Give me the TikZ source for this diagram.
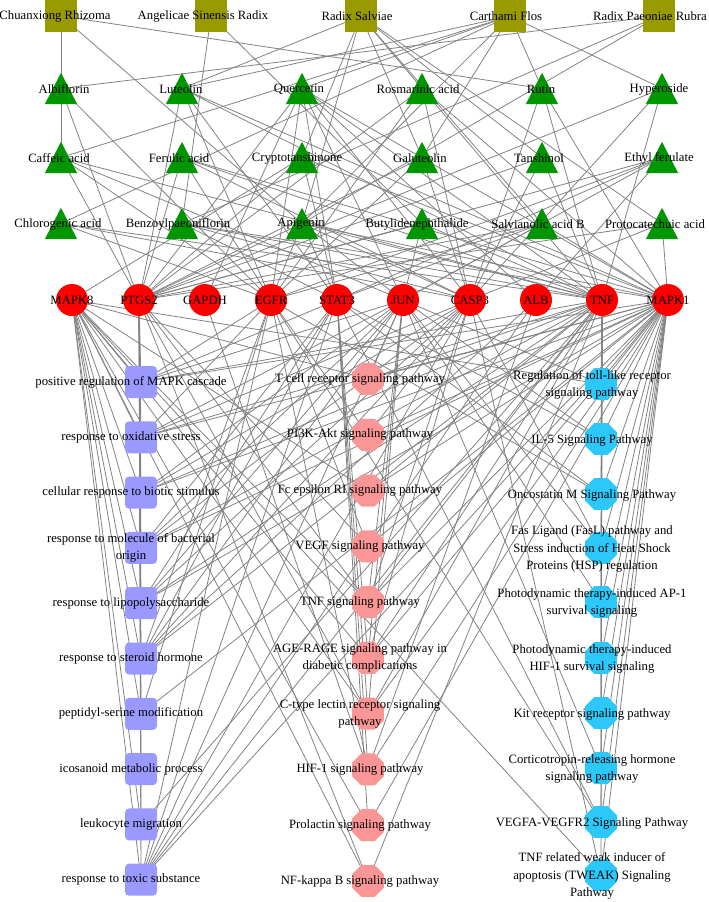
\documentclass[tikz,border=0pt]{standalone}
\usepackage{fontspec}
\setmainfont{Liberation Serif}
\usetikzlibrary{shapes.geometric}
\pgfdeclarelayer{bg}
\pgfsetlayers{bg,main}
\definecolor{herbc}{RGB}{153,153,0}
\definecolor{compc}{RGB}{0,150,0}
\definecolor{targc}{RGB}{255,0,0}
\definecolor{goc}{RGB}{153,153,255}
\definecolor{keggc}{RGB}{250,150,150}
\definecolor{reacc}{RGB}{45,200,250}
\definecolor{edgec}{RGB}{130,130,130}
\begin{document}
\begin{tikzpicture}[x=1pt,y=-1pt,
  herb/.style={rectangle,fill=herbc,minimum size=32pt,inner sep=0},
  comp/.style={rectangle,minimum width=32pt,minimum height=31pt,inner sep=0},
  targ/.style={circle,fill=targc,minimum size=32pt,inner sep=0},
  gonode/.style={rectangle,rounded corners=4pt,fill=goc,minimum size=32pt,inner sep=0},
  kegg/.style={regular polygon,regular polygon sides=8,fill=keggc,minimum size=34.6pt,inner sep=0},
  reac/.style={regular polygon,regular polygon sides=8,fill=reacc,minimum size=34.6pt,inner sep=0},
  lbl/.style={font=\fontsize{12.7}{17.3}\selectfont,align=center,inner sep=0},
  edge/.style={draw=edgec,line width=0.8pt}]
\useasboundingbox (0,0) rectangle (709,902);
% herbs
\foreach \n/\x/\lx/\t in {h1/61/55/Chuanxiong Rhizoma,h2/211/203/Angelicae Sinensis Radix,h3/361/357/Radix Salviae,h4/510/506/Carthami Flos,h5/659/650/Radix Paeoniae Rubra}{
  \node[herb] (\n) at (\x,16) {};
  \node[lbl] (\n l) at (\lx,16) {\t};
}
% compounds
\foreach \n/\x/\lx/\y/\t in {c1/61/64/89/Albiflorin,c2/182/181/89/Luteolin,c3/302/299/89/Quercetin,c4/422/418/89/Rosmarinic acid,c5/542/541/89/Rutin,c6/662/659/89/Hyperoside,
  c7/61/59/158/Caffeic acid,c8/182/179/158/Ferulic acid,c9/302/297/158/Cryptotanshinone,c10/422/420/158/Galuteolin,c11/542/539/158/Tanshinol,c12/662/659/158/Ethyl ferulate,
  c13/61/58/224/Chlorogenic acid,c14/182/178/224/Benzoylpaeoniflorin,c15/302/301/224/Apigenin,c16/422/417/224/Butylidenephthalide,c17/542/538/224/Salvianolic acid B,c18/662/655/224/Protocatechuic acid}{
  \node[comp] (\n) at (\x,\y-0.5) {};
  \fill[compc] (\n.north) -- (\n.south east) -- (\n.south west) -- cycle;
  \node[lbl] (\n l) at (\lx,\y) {\t};
}
% targets
\foreach \n/\x/\t in {t1/72/MAPK8,t2/139/PTGS2,t3/205/GAPDH,t4/271/EGFR,t5/337/STAT3,t6/403/JUN,t7/470/CASP3,t8/536/ALB,t9/602/TNF,t10/668/MAPK1}{
  \node[targ] (\n) at (\x,300) {};
  \node[lbl] (\n l) at (\x,300) {\t};
}
% GO terms
\foreach \n/\y/\t in {g1/382/positive regulation of MAPK cascade,g2/437.3/response to oxidative stress,g3/492.6/cellular response to biotic stimulus,
  g4/547.9/{response to molecule of bacterial\\origin},g5/603.2/response to lipopolysaccharide,g6/658.5/response to steroid hormone,
  g7/713.8/peptidyl-serine modification,g8/769.1/icosanoid metabolic process,g9/824.4/leukocyte migration,g10/879.7/response to toxic substance}{
  \node[gonode] (\n) at (141,\y) {};
  \node[lbl] (\n l) at (131,\y) {\t};
}
% KEGG
\foreach \n/\y/\t in {k1/379/T cell receptor signaling pathway,k2/434.8/PI3K-Akt signaling pathway,k3/490.6/Fc epsilon RI signaling pathway,
  k4/546.3/VEGF signaling pathway,k5/602.1/TNF signaling pathway,k6/657.9/{AGE-RAGE signaling pathway in\\diabetic complications},
  k7/713.7/{C-type lectin receptor signaling\\pathway},k8/769.4/HIF-1 signaling pathway,k9/825.2/Prolactin signaling pathway,k10/881/NF-kappa B signaling pathway}{
  \node[kegg] (\n) at (368,\y) {};
  \node[lbl] (\n l) at (360,\y) {\t};
}
% pathways (right column)
\foreach \n/\y/\t in {r1/384/{Regulation of toll-like receptor\\signaling pathway},r2/439/IL-5 Signaling Pathway,r3/494/Oncostatin M Signaling Pathway,
  r4/548/{Fas Ligand (FasL) pathway and\\Stress induction of Heat Shock\\Proteins (HSP) regulation},r5/602/{Photodynamic therapy-induced AP-1\\survival signaling},
  r6/658/{Photodynamic therapy-induced\\HIF-1 survival signaling},r7/713/Kit receptor signaling pathway,r8/768/{Corticotropin-releasing hormone\\signaling pathway},
  r9/822/VEGFA-VEGFR2 Signaling Pathway,r10/875/{TNF related weak inducer of\\apoptosis (TWEAK) Signaling\\Pathway}}{
  \node[reac] (\n) at (601,\y) {};
  \node[lbl] (\n l) at (592,\y+1) {\t};
}
\begin{pgfonlayer}{bg}
% herb - compound
\foreach \a/\b in {h1/c7,h1/c15,h1/c5,h2/c14,h2/c16,h3/c2,h3/c9,h3/c15,h3/c4,h3/c10,h3/c11,h3/c17,h3/c18,
  h4/c2,h4/c3,h4/c5,h4/c6,h4/c10,h4/c15,h4/c7,h4/c13,h5/c1,h5/c14,h5/c15}
  \draw[edge] (\a.center) -- (\b.center);
% compound - target
\foreach \a/\l in {c1/{t4,t2},c2/{t2,t4,t9,t5,t10},c3/{t4,t6,t9,t7,t2,t10,t5,t3,t8},c4/{t2,t7,t9,t10,t4},
  c5/{t9,t10,t7},c6/{t9,t7,t2},c7/{t2,t4,t9,t6},c8/{t2,t4,t7,t10,t9},c9/{t1,t10,t5,t2},c10/{t2,t4,t7},
  c11/{t9,t2,t7},c12/{t8,t2,t4,t5,t6},c13/{t9,t4,t7},c14/{t5,t9,t7,t10},c15/{t2,t4,t5,t6,t7,t9,t10},
  c16/{t2,t6,t9},c17/{t2,t4,t6,t10,t5},c18/{t10,t2,t7}}
  \foreach \b in \l \draw[edge] (\a.center) -- (\b.center);
% target - pathway
\foreach \a/\l in {t1/{g1,g2,g3,g4,g5,g6,g7,g9,g10,k1,k3,k5,k6,k7,k9,k10,r1,r10},
  t2/{g1,g2,g3,g4,g5,g6,g7,g8,g9,g10,k4,k5,k7,k10},
  t3/{k8},
  t4/{g1,g2,g6,g7,g10,k2,k4,k8,r3,r9},
  t5/{g1,g4,g5,g6,g10,k6,k7,k8,k9,r2,r3,r9},
  t6/{g1,g2,g3,g4,g5,g6,g10,k1,k5,k6,k7,r1,r2,r4,r5,r8},
  t7/{g2,g3,g4,g5,g6,g10,k2,k5,k6,r4,r10},
  t8/{g6,g10,k8},
  t9/{g1,g2,g3,g4,g5,g6,g9,g10,k1,k3,k5,k6,k7,k10,r1,r2,r3,r4,r5,r6,r7,r8,r9,r10},
  t10/{g1,g2,g3,g4,g5,g7,g10,k1,k2,k3,k4,k5,k6,k7,k8,k9,r1,r2,r3,r4,r5,r6,r7,r8,r9,r10}}
  \foreach \b in \l \draw[edge] (\a.center) -- (\b.center);
\end{pgfonlayer}
\end{tikzpicture}
\end{document}
